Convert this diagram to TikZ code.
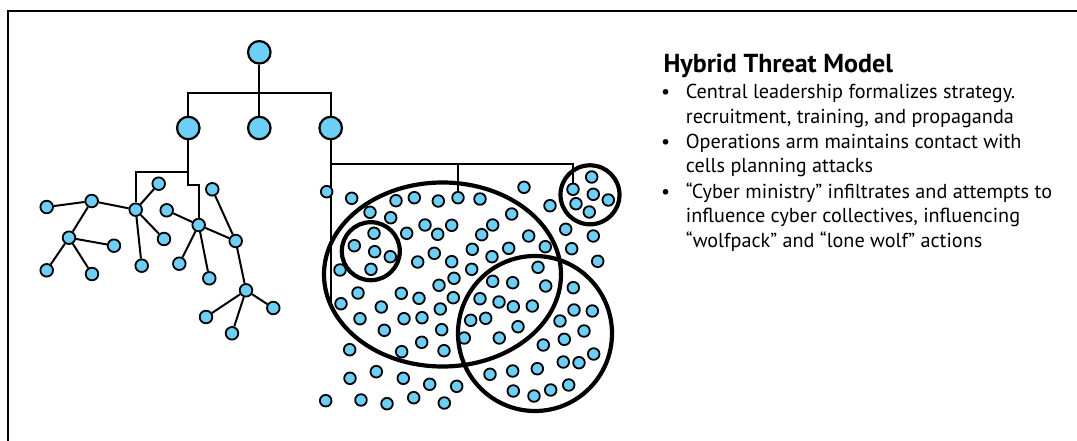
\documentclass[tikz,border=0pt]{standalone}
\usepackage{fontspec}
\setmainfont{PT Sans}
\usetikzlibrary{backgrounds}
\definecolor{cellblue}{RGB}{109,207,246}
\tikzset{
  bignode/.style={circle, draw=black, fill=cellblue, line width=2.2pt, minimum size=22.5pt, inner sep=0pt},
  treenode/.style={circle, draw=black, fill=cellblue, line width=1.8pt, minimum size=12.6pt, inner sep=0pt},
  dot/.style={circle, draw=black, fill=cellblue, line width=1.8pt, minimum size=11.6pt, inner sep=0pt},
  link/.style={draw=black, line width=2pt},
  group/.style={draw=black, line width=4.2pt},
  heading/.style={anchor=base west, inner sep=0pt, font=\fontsize{26}{30}\selectfont\bfseries},
  bodyline/.style={anchor=base west, inner sep=0pt, font=\fontsize{20.2}{24}\selectfont},
  bulletmark/.style={anchor=base, inner sep=0pt, font=\fontsize{20}{24}\selectfont},
}
\begin{document}
\begin{tikzpicture}[x=1pt,y=-1pt]
\useasboundingbox (0,0) rectangle (1077,441);
\begin{pgfonlayer}{background}
  \fill[white] (0,0) rectangle (1077,441);
\end{pgfonlayer}
% frame running off the right and bottom edges
\begin{scope}
  \clip (0,0) rectangle (1077,441);
  \draw[line width=2pt] (8,450) -- (8,11) -- (1090,11);
\end{scope}

% leadership hierarchy
\node[bignode] (top) at (259.3,52.3) {};
\node[bignode] (lead1) at (188.3,128) {};
\node[bignode] (lead2) at (259.3,128) {};
\node[bignode] (lead3) at (330.7,128) {};

% left network of cells
\node[treenode] (a) at (46.7,207) {};
\node[treenode] (b) at (91.7,201) {};
\node[treenode] (c) at (69,237.7) {};
\node[treenode] (dd) at (114,245.7) {};
\node[treenode] (e) at (46.7,270.3) {};
\node[treenode] (f) at (92,274) {};
\node[treenode] (g) at (135.7,209.7) {};
\node[treenode] (h) at (158.7,183.7) {};
\node[treenode] (i) at (164,239) {};
\node[treenode] (j) at (141.7,265.7) {};
\node[treenode] (k) at (166.7,210.3) {};
\node[treenode] (l) at (198.7,225) {};
\node[treenode] (m) at (212.3,189.3) {};
\node[treenode] (n) at (235.7,241) {};
\node[treenode] (o) at (179.3,263.7) {};
\node[treenode] (p) at (209.3,278.3) {};
\node[treenode] (q) at (246,290.3) {};
\node[treenode] (r) at (273.3,308) {};
\node[treenode] (s) at (206,317) {};
\node[treenode] (t) at (232,333.3) {};

% cells reached by the operations arm
\node[dot] (ops1) at (458,197.7) {};
\node[dot] (ops2) at (573,189.3) {};

% loose cells
\foreach \p [count=\ii] in {(326.7,191.7),(351.7,198.3),(396,200.7),(414.3,197.7),(438.3,201),(480,199),(524,187.3),(550,205.7),(370,212.3),(390.7,217.7),(511.7,214),(492.7,225),(425,225),(451.7,225.3),(406.7,233.3),(437.7,234.3),(481.7,234.7),(528.7,236),(565.7,229.3),(593.3,236),(340,270),(434.3,253.3),(417.7,262),(451.7,261.7),(472.3,249.3),(492,256.7),(508.7,248.3),(545.3,246.7),(571.7,248.7),(597.7,261.3),(538,267.3),(471.7,269.3),(454,278.3),(439,285.3),(492.7,281.3),(512.7,282.7),(545.7,286),(573.3,287.7),(358,293),(401.3,293.3),(419,298.3),(453.3,297.7),(341,303.7),(381.3,307),(440.3,309),(480,298.7),(499,302),(513.3,306.7),(532.3,306),(574,310),(592.3,311),(360,318.7),(404,318.7),(422,317.7),(470.7,320.3),(485.7,318.3),(560,321),(584,331),(384.3,330.3),(441.7,329.7),(518,326.7),(464.3,338),(499.3,338),(564.3,339.3),(543.3,345),(349.7,349.7),(421.7,342.3),(401.7,351.7),(444,350.7),(593.7,354),(563.3,362),(579,362.7),(350,378.3),(376.3,371.7),(403.3,378.3),(429.7,384.3),(456.7,386.3),(490,374.3),(512.7,371),(537.3,368.7),(513.3,391),(534,396),(550.7,390),(568.7,385),(325.7,400.7),(361,400),(387,403.7),(413.7,397.7),(444.3,403),(374,233.3),(354.3,245.7),(374.7,251.7),(390.3,256.7),(371,269.3),(591.7,177),(593.3,194.3),(608.3,200),(576,203.7),(589.3,212)}
  \node[dot] (cell\ii) at \p {};

% groupings
\draw[group] (442.5,274.5) ellipse [x radius=118.5, y radius=92];
\draw[group] (535,333.5) ellipse [x radius=77, y radius=77.5];
\draw[group] (370.8,251.2) circle [radius=29];
\draw[group] (590,194.8) circle [radius=29.5];

% connectors, kept beneath the nodes
\begin{pgfonlayer}{background}
  \coordinate (bar) at (259.3,93.3);
  \draw[link] (top) -- (lead2);
  \draw[link] (lead1) |- (bar) -| (lead3);
  \coordinate (stepA) at (188.3,185);
  \coordinate (stepB) at (188.3,171.7);
  \draw[link] (lead1) -- (stepA) -| (l);
  \draw[link] (stepB) -| (g);
  \coordinate (opsend) at (330.7,303);
  \coordinate (opsbar) at (330.7,164.3);
  \draw[link] (lead3) -- (opsend);
  \draw[link] (opsbar) -| (ops1);
  \draw[link] (opsbar) -| (ops2);
  \draw[link] (a) -- (b);
  \draw[link] (b) -- (c);
  \draw[link] (b) -- (g);
  \draw[link] (c) -- (dd);
  \draw[link] (c) -- (e);
  \draw[link] (c) -- (f);
  \draw[link] (g) -- (h);
  \draw[link] (g) -- (i);
  \draw[link] (g) -- (j);
  \draw[link] (l) -- (k);
  \draw[link] (l) -- (o);
  \draw[link] (l) -- (p);
  \draw[link] (l) -- (n);
  \draw[link] (m) -- (n);
  \draw[link] (n) -- (q);
  \draw[link] (q) -- (r);
  \draw[link] (q) -- (s);
  \draw[link] (q) -- (t);
\end{pgfonlayer}

% legend text
\node[heading] (title) at (663.3,72.7) {Hybrid Threat Model};
\node[bulletmark] (bul1) at (665.7,99) {•};
\node[bulletmark] (bul2) at (665.7,148.3) {•};
\node[bulletmark] (bul3) at (665.7,198.3) {•};
\node[bodyline] (line1) at (685.7,99) {Central leadership formalizes strategy.};
\node[bodyline] (line2) at (685.7,123.3) {recruitment, training, and propaganda};
\node[bodyline] (line3) at (685.7,148.3) {Operations arm maintains contact with};
\node[bodyline] (line4) at (685.7,172.7) {cells planning attacks};
\node[bodyline] (line5) at (685.7,198.3) {“Cyber ministry” infiltrates and attempts to};
\node[bodyline] (line6) at (685.7,222.7) {influence cyber collectives, influencing};
\node[bodyline] (line7) at (685.7,247.3) {“wolfpack” and “lone wolf” actions};
\end{tikzpicture}
\end{document}
